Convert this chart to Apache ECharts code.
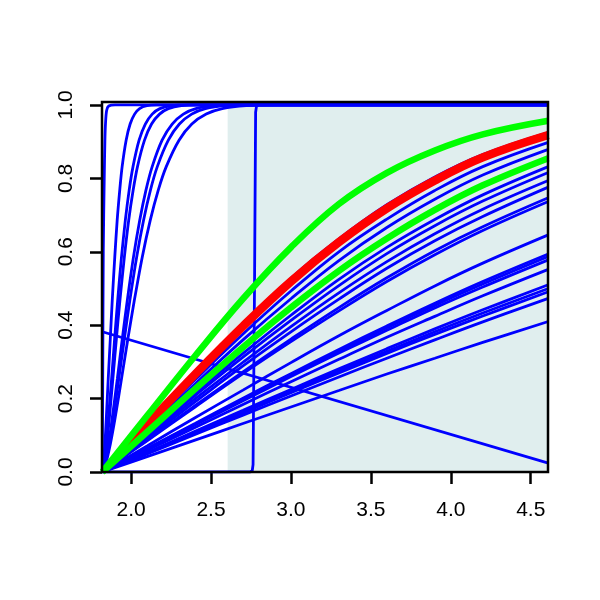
<!DOCTYPE html>
<html><head><meta charset="utf-8">
<script src="https://cdn.jsdelivr.net/npm/echarts@6/dist/echarts.min.js"></script>
<style>html,body{margin:0;padding:0;background:#fff}#c{width:600px;height:600px}</style>
</head><body><div id="c"></div><script>
// axis
const xTicks = [2.0, 2.5, 3.0, 3.5, 4.0, 4.5];
const yTicks = [0, 0.2, 0.4, 0.6, 0.8, 1.0];
const xRange = [1.818, 4.608];
const yRange = [0, 1.008];
const shadeFrom = 2.604;

// fan of curves, sampled on a common x grid
const fanX = [1.82, 2.1, 2.4, 2.7, 3.0, 3.3, 3.6, 3.9, 4.2, 4.61];
const greenTop = [0, 0.153, 0.316, 0.472, 0.612, 0.730, 0.815, 0.876, 0.920, 0.957];
const greenLow = [0, 0.109, 0.226, 0.340, 0.448, 0.548, 0.636, 0.714, 0.781, 0.855];
const redX = [1.97, 2.1, 2.4, 2.7, 3.0, 3.3, 3.6, 3.9, 4.2, 4.61];
const redY = [0.069, 0.129, 0.266, 0.397, 0.519, 0.626, 0.718, 0.794, 0.857, 0.918];
const b01 = [0, 0.131, 0.271, 0.404, 0.528, 0.635, 0.728, 0.804, 0.865, 0.925];
const b02 = [0, 0.122, 0.251, 0.376, 0.493, 0.600, 0.689, 0.767, 0.832, 0.898];
const b03 = [0, 0.116, 0.240, 0.360, 0.472, 0.576, 0.666, 0.743, 0.809, 0.879];
const b04 = [0, 0.104, 0.215, 0.323, 0.427, 0.525, 0.612, 0.688, 0.755, 0.832];
const b05 = [0, 0.100, 0.208, 0.313, 0.413, 0.508, 0.595, 0.671, 0.738, 0.816];
const b06 = [0, 0.096, 0.199, 0.299, 0.396, 0.488, 0.573, 0.649, 0.716, 0.794];
const b07 = [0, 0.092, 0.191, 0.289, 0.382, 0.471, 0.555, 0.630, 0.696, 0.776];
const b08 = [0, 0.087, 0.181, 0.273, 0.362, 0.448, 0.529, 0.603, 0.668, 0.747];
const b09 = [0, 0.085, 0.177, 0.268, 0.355, 0.439, 0.519, 0.592, 0.658, 0.737];
const b10 = [0, 0.071, 0.148, 0.223, 0.298, 0.371, 0.440, 0.507, 0.569, 0.646];
const b11 = [0, 0.064, 0.132, 0.201, 0.268, 0.334, 0.398, 0.460, 0.519, 0.594];
const b12 = [0, 0.063, 0.130, 0.198, 0.265, 0.329, 0.393, 0.454, 0.512, 0.587];
const b13 = [0, 0.062, 0.128, 0.194, 0.260, 0.324, 0.386, 0.447, 0.504, 0.578];
const b14 = [0, 0.059, 0.121, 0.184, 0.246, 0.307, 0.367, 0.424, 0.480, 0.552];
const b15 = [0, 0.053, 0.111, 0.168, 0.225, 0.281, 0.336, 0.390, 0.442, 0.510];
const b16 = [0, 0.052, 0.108, 0.164, 0.220, 0.275, 0.329, 0.382, 0.433, 0.500];
const b17 = [0, 0.051, 0.106, 0.161, 0.216, 0.270, 0.323, 0.375, 0.425, 0.491];
const b18 = [0, 0.049, 0.102, 0.155, 0.207, 0.259, 0.310, 0.360, 0.409, 0.473];
const b19 = [0, 0.042, 0.087, 0.132, 0.177, 0.222, 0.267, 0.310, 0.353, 0.410];

// steep curves on the left (shared heights, each with its own x positions)
const steepY = [0, 0.02, 0.076, 0.147, 0.254, 0.363, 0.467, 0.586, 0.686, 0.768, 0.832, 0.904, 0.948, 0.975, 0.990, 0.998, 1.0, 1.0];
const s1X = [1.82, 1.826, 1.836, 1.845, 1.857, 1.87, 1.882, 1.898, 1.913, 1.929, 1.944, 1.969, 1.994, 2.022, 2.053, 2.099, 2.161, 4.61];
const s2X = [1.82, 1.83, 1.844, 1.858, 1.878, 1.897, 1.916, 1.94, 1.964, 1.988, 2.012, 2.05, 2.089, 2.132, 2.18, 2.252, 2.348, 4.61];
const s3X = [1.82, 1.831, 1.848, 1.864, 1.886, 1.908, 1.93, 1.958, 1.985, 2.013, 2.04, 2.084, 2.128, 2.178, 2.233, 2.315, 2.425, 4.61];
const s4X = [1.82, 1.836, 1.859, 1.882, 1.914, 1.945, 1.976, 2.015, 2.054, 2.093, 2.132, 2.194, 2.257, 2.327, 2.405, 2.522, 2.678, 4.61];
const s5X = [1.82, 1.837, 1.863, 1.889, 1.923, 1.958, 1.992, 2.035, 2.078, 2.121, 2.164, 2.233, 2.302, 2.379, 2.465, 2.594, 2.766, 4.61];
const s6X = [1.82, 1.84, 1.87, 1.9, 1.94, 1.98, 2.02, 2.07, 2.12, 2.17, 2.22, 2.30, 2.38, 2.47, 2.57, 2.72, 2.92, 4.61];
const nearX = [1.82, 1.823, 1.826, 1.832, 1.836, 1.84, 1.847, 1.86, 1.9, 4.61];
const nearY = [0, 0.3, 0.6, 0.8, 0.9, 0.95, 0.985, 0.997, 1.0, 1.0];
// step-like curve
const stepX = [1.82, 2.745, 2.758, 2.763, 2.772, 2.779, 2.785, 2.8, 4.61];
const stepY = [0, 0, 0.004, 0.02, 0.5, 0.98, 0.998, 1.0, 1.0];
// decreasing line
const declineX = [1.82, 4.61];
const declineY = [0.382, 0.024];

const pairs = (xs, ys) => xs.map((x, i) => [x, ys[i]]);
const BLUE = '#0000ff';
function line(data, color, width, smooth, z) {
  return { type: 'line', data, symbol: 'none', showSymbol: false, smooth,
    lineStyle: { color, width }, silent: true, animation: false, z };
}
const series = [];
series.push({ type: 'line', data: [], symbol: 'none', silent: true, z: 1,
  markArea: { silent: true, itemStyle: { color: '#E0EEEE', opacity: 1 },
    data: [[{ coord: [shadeFrom, yRange[0]] }, { coord: [xRange[1], yRange[1]] }]] } });
[b01, b02, b03, b04, b05, b06, b07, b08, b09, b10, b11, b12, b13, b14, b15, b16, b17, b18, b19]
  .forEach(ys => series.push(line(pairs(fanX, ys), BLUE, 2.8, 0.4, 3)));
[s1X, s2X, s3X, s4X, s5X, s6X].forEach(xs => series.push(line(pairs(xs, steepY), BLUE, 2.8, 0.3, 3)));
series.push(line(pairs(nearX, nearY), BLUE, 2.8, 0.3, 3));
series.push(line(pairs(stepX, stepY), BLUE, 2.8, false, 3));
series.push(line(pairs(declineX, declineY), BLUE, 2.8, false, 3));
series.push(line(pairs(redX, redY), '#ff0000', 8.5, 0.4, 4));
series.push(line(pairs(fanX, greenLow), '#00ff00', 6.5, 0.4, 5));
series.push(line(pairs(fanX, greenTop), '#00ff00', 6.5, 0.4, 5));

const font = { fontFamily: 'Liberation Sans', fontSize: 21, color: '#000' };
const chart = echarts.init(document.getElementById('c'), null, { renderer: 'canvas' });
chart.setOption({
  animation: false,
  backgroundColor: '#fff',
  grid: { left: 102, right: 52, top: 102, bottom: 128, show: true, borderColor: '#000',
    borderWidth: 2.5, backgroundColor: 'transparent', z: 10, outerBoundsMode: 'none', containLabel: false },
  xAxis: { type: 'value', min: xRange[0], max: xRange[1],
    axisLine: { show: false }, splitLine: { show: false },
    axisTick: { show: true, length: 12, customValues: xTicks, lineStyle: { color: '#000', width: 2.5 } },
    axisLabel: Object.assign({ customValues: xTicks, margin: 28, formatter: v => v.toFixed(1) }, font) },
  yAxis: { type: 'value', min: yRange[0], max: yRange[1],
    axisLine: { show: false }, splitLine: { show: false },
    axisTick: { show: true, length: 12, customValues: yTicks, lineStyle: { color: '#000', width: 2.5 } },
    axisLabel: Object.assign({ customValues: yTicks, margin: 25, rotate: 90, formatter: v => v.toFixed(1) }, font) },
  series
});
</script></body></html>
